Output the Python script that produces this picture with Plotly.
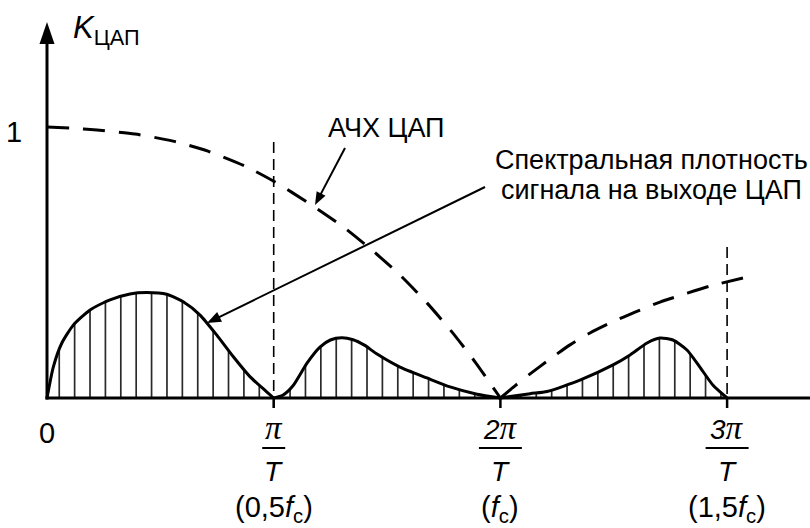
import numpy as np
import plotly.graph_objects as go

# ---- frequency axis in units of pi/T, magnitude axis in units of K ----
# Frequency response of the DAC (dashed curve)
ach_x = [0.000, 0.101, 0.221, 0.388, 0.556, 0.710, 0.873, 1.006, 1.160, 1.301,
         1.433, 1.557, 1.676, 1.786, 1.892, 2.000,
         2.063, 2.131, 2.219, 2.307, 2.395, 2.492, 2.594, 2.704, 2.814, 2.925, 3.070]
ach_y = [1.000, 0.996, 0.989, 0.974, 0.948, 0.911, 0.856, 0.797, 0.716, 0.635,
         0.546, 0.454, 0.351, 0.244, 0.129, 0.000,
         0.044, 0.089, 0.144, 0.196, 0.240, 0.280, 0.317, 0.354, 0.384, 0.413, 0.443]

# Spectral density of the DAC output signal (three lobes)
hump1_x = [0.000, 0.028, 0.065, 0.116, 0.190, 0.278, 0.366, 0.440, 0.528, 0.601,
           0.675, 0.749, 0.822, 0.895, 0.969, 1.000]
hump1_y = [0.000, 0.115, 0.202, 0.269, 0.325, 0.362, 0.384, 0.389, 0.383, 0.355,
           0.306, 0.232, 0.152, 0.079, 0.023, 0.000]
hump2_x = [1.000, 1.040, 1.085, 1.147, 1.204, 1.250, 1.300, 1.350, 1.400, 1.456,
           1.557, 1.676, 1.778, 1.897, 2.000]
hump2_y = [0.000, 0.010, 0.045, 0.129, 0.188, 0.214, 0.222, 0.215, 0.195, 0.162,
           0.114, 0.074, 0.041, 0.014, 0.000]
hump3_x = [2.000, 2.131, 2.206, 2.351, 2.497, 2.572, 2.647, 2.704, 2.761, 2.823,
           2.880, 2.937, 3.000]
hump3_y = [0.000, 0.016, 0.024, 0.066, 0.122, 0.159, 0.203, 0.221, 0.214, 0.177,
           0.114, 0.048, 0.000]

# Axis labels
tick_vals = [1, 2, 3]
tick_num = ["π", "2π", "3π"]
tick_den = ["T", "T", "T"]
tick_freq = ["(0,5<i>f</i><sub>c</sub>)", "(<i>f</i><sub>c</sub>)", "(1,5<i>f</i><sub>c</sub>)"]
y_label = "<i>K</i><sub>ЦАП</sub>"
ach_label = "АЧХ ЦАП"
spec_label = ["Спектральная плотность", "сигнала на выходе ЦАП"]

# ---- canvas geometry ----
W, H = 810, 528
X0_PX, PX_PER_X = 47, 226.7     # pixel of x=0, pixels per pi/T
Y0_PX, PX_PER_Y = 398, 271      # pixel of y=0, pixels per unit gain


def dx(px):
    return px / PX_PER_X


def dy(px):
    return px / PX_PER_Y


SANS = "Liberation Sans, Arial, sans-serif"
BLACK = "#000000"

fig = go.Figure()

# hatching under each lobe
hatch_step = 0.06788
hx, hy = [], []
for xs, ys in ((hump1_x, hump1_y), (hump2_x, hump2_y), (hump3_x, hump3_y)):
    k0 = int(np.ceil((xs[0] - 0.054) / hatch_step))
    k1 = int(np.floor((xs[-1] - 0.054) / hatch_step))
    for k in range(k0, k1 + 1):
        xv = 0.054 + k * hatch_step
        if xs[0] < xv < xs[-1]:
            top = float(np.interp(xv, xs, ys))
            hx += [xv, xv, None]
            hy += [0, top, None]
fig.add_trace(go.Scatter(x=hx, y=hy, mode="lines",
                         line=dict(color="#2a2a2a", width=1.7),
                         hoverinfo="skip", showlegend=False))

# spectral lobes
for xs, ys in ((hump1_x, hump1_y), (hump2_x, hump2_y), (hump3_x, hump3_y)):
    fig.add_trace(go.Scatter(x=xs, y=ys, mode="lines",
                             line=dict(color=BLACK, width=3, shape="spline", smoothing=0.6),
                             hoverinfo="skip", showlegend=False))

# DAC frequency response, split at its zero
iz = int(np.argmin(ach_y))
for xs, ys in ((ach_x[:iz + 1], ach_y[:iz + 1]), (ach_x[iz:], ach_y[iz:])):
    fig.add_trace(go.Scatter(x=xs, y=ys, mode="lines",
                             line=dict(color=BLACK, width=3, dash="22px,14px",
                                       shape="spline", smoothing=0.6),
                             hoverinfo="skip", showlegend=False))

# auxiliary dashed verticals at pi/T and 3pi/T
for xv, ytop in ((tick_vals[0], dy(Y0_PX - 142)), (tick_vals[2], dy(Y0_PX - 247))):
    fig.add_trace(go.Scatter(x=[xv, xv], y=[ytop, -dy(10)], mode="lines",
                             line=dict(color=BLACK, width=1.6, dash="11px,6px"),
                             hoverinfo="skip", showlegend=False))

shapes = []

# frequency axis
x_right = (W - X0_PX) / PX_PER_X
shapes.append(dict(type="line", x0=-dx(1.5), x1=x_right, y0=0, y1=0,
                   line=dict(color=BLACK, width=3)))


def arrow(tail, tip, width, head_len, head_half):
    """Straight line with a filled triangular head, sizes in pixels."""
    vx = (tip[0] - tail[0]) * PX_PER_X
    vy = (tip[1] - tail[1]) * PX_PER_Y
    n = np.hypot(vx, vy)
    ux, uy = vx / n, vy / n
    bx = tip[0] - dx(ux * head_len)
    by = tip[1] - dy(uy * head_len)
    p1 = (bx + dx(-uy * head_half), by + dy(ux * head_half))
    p2 = (bx - dx(-uy * head_half), by - dy(ux * head_half))
    shapes.append(dict(type="line", x0=tail[0], y0=tail[1],
                       x1=tip[0] - dx(ux * head_len * 0.6),
                       y1=tip[1] - dy(uy * head_len * 0.6),
                       line=dict(color=BLACK, width=width)))
    shapes.append(dict(type="path",
                       path=f"M{tip[0]},{tip[1]} L{p1[0]},{p1[1]} L{p2[0]},{p2[1]} Z",
                       fillcolor=BLACK, line=dict(color=BLACK, width=0)))


# vertical axis with arrow
arrow((0, -dy(1.5)), (0, dy(Y0_PX - 22)), 3, 22, 7.5)

# tick marks below the frequency axis
for xv in tick_vals:
    shapes.append(dict(type="line", x0=xv, x1=xv, y0=0, y1=-dy(10),
                       line=dict(color=BLACK, width=2.5)))

# pointer arrows to the curves
arrow((dx(345 - X0_PX), dy(Y0_PX - 148)), (dx(315 - X0_PX), dy(Y0_PX - 205)), 2, 13, 5)
arrow((dx(485 - X0_PX), dy(Y0_PX - 187)), (dx(207 - X0_PX), dy(Y0_PX - 323)), 2, 14, 5.5)

annotations = []


def text(x, y, s, size, xanchor="center"):
    annotations.append(dict(x=x, y=y, text=s, showarrow=False, xanchor=xanchor,
                            yanchor="middle", font=dict(family=SANS, size=size, color=BLACK)))


# axis captions
text(dx(71 - X0_PX), dy(Y0_PX - 30), y_label, 31, xanchor="left")
text(dx(14 - X0_PX), dy(Y0_PX - 132), "1", 29)
text(0, dy(Y0_PX - 433), "0", 29)

# fractional tick labels
for xv, num, den, fr in zip(tick_vals, tick_num, tick_den, tick_freq):
    lead = num[:-1]
    num_html = (f"<i>{lead}</i>" if lead else "") + \
        "<span style='font-family:Liberation Serif;font-size:33px'><i>π</i></span>"
    text(xv, dy(Y0_PX - 428), num_html, 28)
    bar = 23 if len(num) == 1 else 43
    shapes.append(dict(type="line", x0=xv - dx(bar / 2), x1=xv + dx(bar / 2),
                       y0=dy(Y0_PX - 448), y1=dy(Y0_PX - 448),
                       line=dict(color=BLACK, width=2)))
    text(xv, dy(Y0_PX - 471), f"<i>{den}</i>", 28)
    text(xv, dy(Y0_PX - 509), fr, 29)

# curve captions
text(dx(386 - X0_PX), dy(Y0_PX - 128), ach_label, 27)
text(dx(651 - X0_PX), dy(Y0_PX - 160), spec_label[0], 27)
text(dx(651 - X0_PX), dy(Y0_PX - 190), spec_label[1], 27)

fig.update_layout(
    width=W, height=H,
    margin=dict(l=0, r=0, t=0, b=0),
    paper_bgcolor="white", plot_bgcolor="white",
    xaxis=dict(visible=False, range=[-X0_PX / PX_PER_X, x_right], fixedrange=True),
    yaxis=dict(visible=False, range=[(Y0_PX - H) / PX_PER_Y, Y0_PX / PX_PER_Y], fixedrange=True),
    shapes=shapes, annotations=annotations,
    showlegend=False,
)

fig.write_html("out.html", config=dict(displayModeBar=False))
